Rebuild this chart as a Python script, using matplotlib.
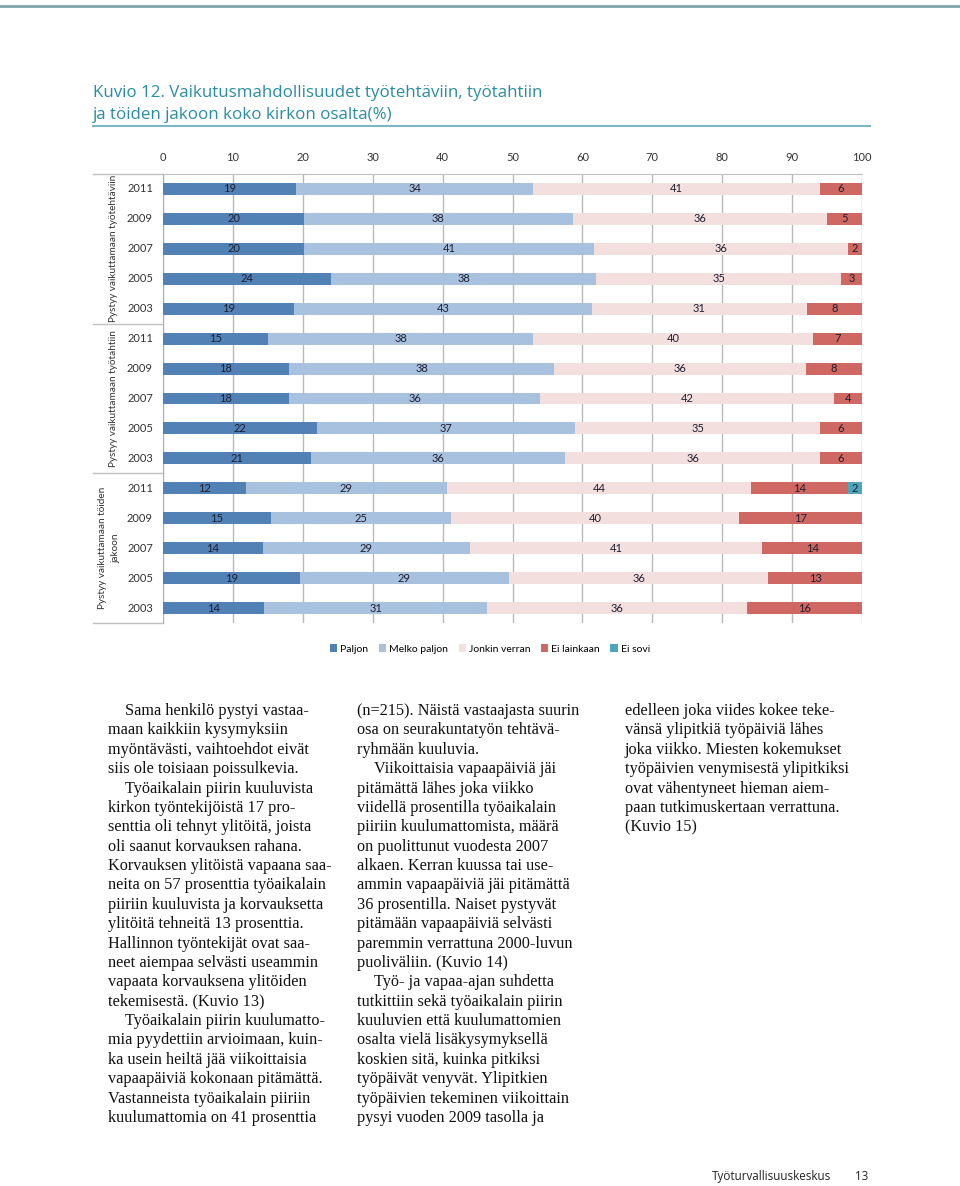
import numpy as np
import matplotlib.pyplot as plt
from matplotlib.patches import Patch
import matplotlib.transforms as mtransforms

# data (rows top to bottom)
groups = ["Pystyy vaikuttamaan työtehtäviin", "Pystyy vaikuttamaan työtahtiin",
          "Pystyy vaikuttamaan töiden\njakoon"]
years = ["2011", "2009", "2007", "2005", "2003"] * 3
series = ["Paljon", "Melko paljon", "Jonkin verran", "Ei lainkaan", "Ei sovi"]
paljon = [19, 20, 20, 24, 19, 15, 18, 18, 22, 21, 12, 15, 14, 19, 14]
melko = [34, 38, 41, 38, 43, 38, 38, 36, 37, 36, 29, 25, 29, 29, 31]
jonkin = [41, 36, 36, 35, 31, 40, 36, 42, 35, 36, 44, 40, 41, 36, 36]
ei_lainkaan = [6, 5, 2, 3, 8, 7, 8, 4, 6, 6, 14, 17, 14, 13, 16]
ei_sovi = [0, 0, 0, 0, 0, 0, 0, 0, 0, 0, 2, 0, 0, 0, 0]

colors = ["#5281b6", "#a8c1df", "#f3dfde", "#cf6862", "#4ea6bb"]
teal = "#2a8ca2"

W, H = 960, 1186
fig = plt.figure(figsize=(W / 100, H / 100), dpi=100)

# page decorations
fig.add_artist(plt.Line2D([0, 1], [1 - 6 / H] * 2, color="#7fa4aa", lw=2))
fig.text(93 / W, 1 - 97 / H, "Kuvio 12. Vaikutusmahdollisuudet työtehtäviin, työtahtiin",
         family="Open Sans", fontsize=12.2, color=teal, va="baseline")
fig.text(93 / W, 1 - 119 / H, "ja töiden jakoon koko kirkon osalta(%)",
         family="Open Sans", fontsize=12.2, color=teal, va="baseline")
fig.add_artist(plt.Line2D([93 / W, 870 / W], [1 - 126 / H] * 2, color="#7bb6c4", lw=1.5))

# chart
x0, x1, yt, yb = 163, 862, 174, 623
ax = fig.add_axes([x0 / W, 1 - yb / H, (x1 - x0) / W, (yb - yt) / H])
data = np.array([paljon, melko, jonkin, ei_lainkaan, ei_sovi], dtype=float)
pct = data / data.sum(axis=0) * 100
y = np.arange(len(years))
left = np.zeros(len(years))
for i, name in enumerate(series):
    ax.barh(y, pct[i], left=left, height=0.4, color=colors[i], label=name, zorder=3)
    for j in range(len(years)):
        if data[i, j] > 0:
            ax.text(left[j] + pct[i, j] / 2, y[j], f"{int(data[i, j])}", ha="center",
                    va="center", fontsize=8, family="Lato", color="#1e1e30", zorder=4)
    left += pct[i]

ax.set_xlim(0, 100)
ax.set_ylim(len(years) - 0.5, -0.5)
ax.set_xticks(np.arange(0, 101, 10))
ax.xaxis.tick_top()
ax.tick_params(axis="x", length=0, pad=8, labelsize=8, labelcolor="#333333")
for lab in ax.get_xticklabels():
    lab.set_family("Lato")
ax.set_yticks([])
ax.grid(axis="x", color="#b8b8b8", lw=1, zorder=0)
for s in ["right", "bottom"]:
    ax.spines[s].set_visible(False)
ax.spines["top"].set_color("#c0c0c0")
ax.spines["left"].set_color("#b0b0b0")

trans = mtransforms.blended_transform_factory(ax.transAxes, ax.transData)
lx = (93 - x0) / (x1 - x0)
for b in [-0.5, 4.5, 9.5, 14.5]:
    ax.plot([lx, 0], [b, b], color="#c0c0c0", lw=1, transform=trans, clip_on=False)
for j, yr in enumerate(years):
    ax.text((153 - x0) / (x1 - x0), j, yr, transform=trans, ha="right", va="center",
            fontsize=8, family="Lato", color="#333333")
for g, name in enumerate(groups):
    gx = 113 if "\n" not in name else 109
    ax.text((gx - x0) / (x1 - x0), g * 5 + 2, name, transform=trans, rotation=90,
            ha="center", va="center", fontsize=7.2, family="Lato", color="#333333",
            linespacing=1.55, multialignment="center")

handles = [Patch(facecolor=c, edgecolor="none") for c in colors]
fig.legend(handles, series, loc="center", bbox_to_anchor=(490 / W, 1 - 649 / H), ncol=5,
           frameon=False, handlelength=0.7, handleheight=0.7, handletextpad=0.3,
           columnspacing=1.0, prop={"family": "Lato", "size": 7.5})

# body text
col1 = [("Sama henkilö pystyi vastaa-", 1), ("maan kaikkiin kysymyksiin", 0),
        ("myöntävästi, vaihtoehdot eivät", 0), ("siis ole toisiaan poissulkevia.", 0),
        ("Työaikalain piirin kuuluvista", 1), ("kirkon työntekijöistä 17 pro-", 0),
        ("senttia oli tehnyt ylitöitä, joista", 0), ("oli saanut korvauksen rahana.", 0),
        ("Korvauksen ylitöistä vapaana saa-", 0), ("neita on 57 prosenttia työaikalain", 0),
        ("piiriin kuuluvista ja korvauksetta", 0), ("ylitöitä tehneitä 13 prosenttia.", 0),
        ("Hallinnon työntekijät ovat saa-", 0), ("neet aiempaa selvästi useammin", 0),
        ("vapaata korvauksena ylitöiden", 0), ("tekemisestä. (Kuvio 13)", 0),
        ("Työaikalain piirin kuulumatto-", 1), ("mia pyydettiin arvioimaan, kuin-", 0),
        ("ka usein heiltä jää viikoittaisia", 0), ("vapaapäiviä kokonaan pitämättä.", 0),
        ("Vastanneista työaikalain piiriin", 0), ("kuulumattomia on 41 prosenttia", 0)]
col2 = [("(n=215). Näistä vastaajasta suurin", 0), ("osa on seurakuntatyön tehtävä-", 0),
        ("ryhmään kuuluvia.", 0), ("Viikoittaisia vapaapäiviä jäi", 1),
        ("pitämättä lähes joka viikko", 0), ("viidellä prosentilla työaikalain", 0),
        ("piiriin kuulumattomista, määrä", 0), ("on puolittunut vuodesta 2007", 0),
        ("alkaen. Kerran kuussa tai use-", 0), ("ammin vapaapäiviä jäi pitämättä", 0),
        ("36 prosentilla. Naiset pystyvät", 0), ("pitämään vapaapäiviä selvästi", 0),
        ("paremmin verrattuna 2000-luvun", 0), ("puoliväliin. (Kuvio 14)", 0),
        ("Työ- ja vapaa-ajan suhdetta", 1), ("tutkittiin sekä työaikalain piirin", 0),
        ("kuuluvien että kuulumattomien", 0), ("osalta vielä lisäkysymyksellä", 0),
        ("koskien sitä, kuinka pitkiksi", 0), ("työpäivät venyvät. Ylipitkien", 0),
        ("työpäivien tekeminen viikoittain", 0), ("pysyi vuoden 2009 tasolla ja", 0)]
col3 = [("edelleen joka viides kokee teke-", 0), ("vänsä ylipitkiä työpäiviä lähes", 0),
        ("joka viikko. Miesten kokemukset", 0), ("työpäivien venymisestä ylipitkiksi", 0),
        ("ovat vähentyneet hieman aiem-", 0), ("paan tutkimuskertaan verrattuna.", 0),
        ("(Kuvio 15)", 0)]

for cx, lines in [(108, col1), (357, col2), (625, col3)]:
    for k, (txt, ind) in enumerate(lines):
        fig.text((cx + 17 * ind) / W, 1 - (715 + 19.38 * k) / H, txt, family="Liberation Serif",
                 fontsize=11.7, color="#111111", va="baseline")

fig.text(712 / W, 1 - 1180 / H, "Työturvallisuuskeskus", family="Open Sans", fontsize=8.4,
         color="#222222", va="baseline")
fig.text(855 / W, 1 - 1180 / H, "13", family="Open Sans", fontsize=8.4, color="#222222",
         va="baseline")

fig.savefig("out.png", dpi=100)
